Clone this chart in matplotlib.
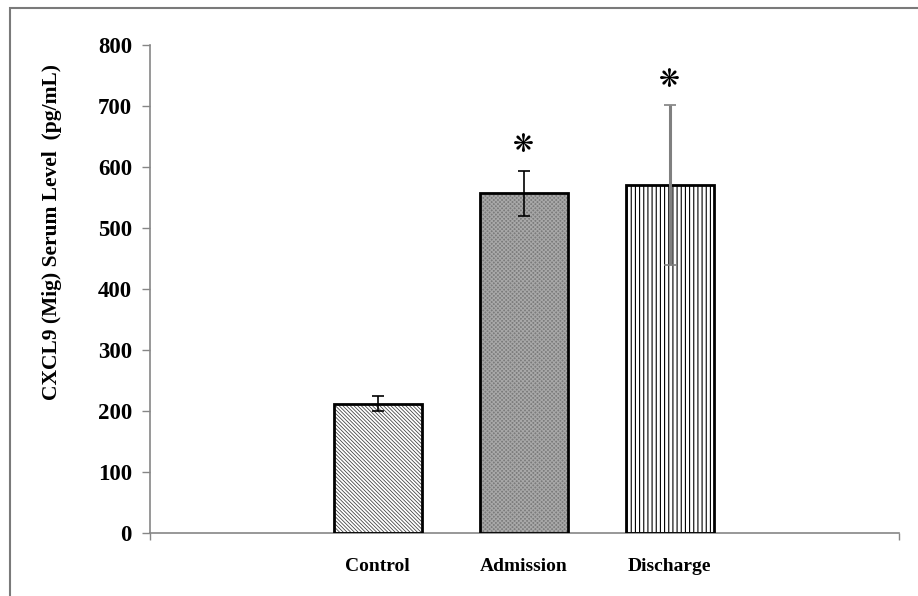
import matplotlib.pyplot as plt
import matplotlib.patches as mpatches
import numpy as np

groups = ['Control', 'Admission', 'Discharge']
means = [213, 558, 571]
errs = [12, 37, 131]
stars = ['', '\u274b', '\u274b']

hatches = ['\\' * 9, 'xxxxxxxx', '|' * 4]
faces = ['white', '#7c7c7c', 'white']
hatch_cols = ['#3a3a3a', '#a8a8a8', 'black']
hatch_lw = [0.55, 0.8, 0.8]
err_cols = ['black', 'black', '#808080']

plt.rcParams['font.family'] = ['Liberation Serif', 'DejaVu Sans']

fig = plt.figure(figsize=(9.18, 5.96), dpi=100)
ax = fig.add_axes([0.1634, 0.105, 0.8159, 0.8187])

x = np.arange(len(groups))
w = 0.6
for i in range(len(groups)):
    plt.rcParams['hatch.linewidth'] = hatch_lw[i]
    ax.bar(x[i], means[i], w, color=faces[i], hatch=hatches[i],
           edgecolor=hatch_cols[i], linewidth=0, zorder=2)
    ax.bar(x[i], means[i], w, color='none', edgecolor='black',
           linewidth=2, zorder=3)
    ax.errorbar(x[i], means[i], yerr=errs[i], fmt='none',
                ecolor=err_cols[i], elinewidth=2.2 if i == 2 else 1.2,
                capsize=4, capthick=1.2, zorder=4)
    if stars[i]:
        ax.text(x[i], means[i] + errs[i] + 42, stars[i], ha='center',
                va='center', fontsize=18, family='DejaVu Sans', zorder=5)

ax.set_xlim(-1.56, 3.57)
ax.set_ylim(0, 800)
ax.set_yticks(range(0, 801, 100))
ax.set_yticklabels([str(v) for v in range(0, 801, 100)],
                   fontsize=16.5, fontweight='bold')
ax.set_xticks(x)
ax.set_xticklabels(groups, fontsize=14, fontweight='bold')
ax.tick_params(axis='x', length=0, pad=18)
ax.tick_params(axis='y', length=6, width=1, color='#868686', pad=7)
ax.set_xticks([-1.56, 3.57], minor=True)
ax.tick_params(axis='x', which='minor', length=5, width=1, color='#868686')

for s in ['top', 'right']:
    ax.spines[s].set_visible(False)
for s in ['left', 'bottom']:
    ax.spines[s].set_color('#868686')
    ax.spines[s].set_linewidth(1.2)

ax.set_ylabel('CXCL9 (Mig) Serum Level  (pg/mL)', fontsize=15.5,
              fontweight='bold')
ax.yaxis.set_label_coords(-0.1175, 0.618)

# figure frame (left and top edges visible)
fig.patches.append(mpatches.Rectangle((9.5 / 918, -0.1), 1.2, 1.1 - 7.5 / 596,
                                      transform=fig.transFigure, fill=False,
                                      edgecolor='#7a7a7a', linewidth=1.5))

fig.savefig('out.png', dpi=100)
